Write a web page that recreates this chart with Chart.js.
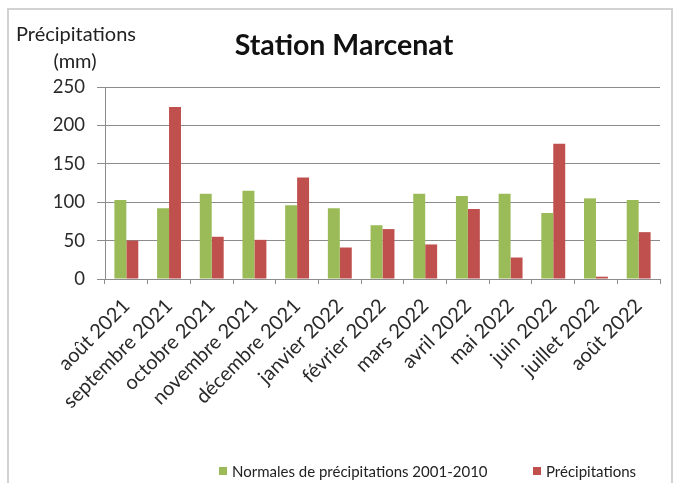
<!DOCTYPE html>
<html>
<head>
<meta charset="utf-8">
<script src="https://cdn.jsdelivr.net/npm/chart.js@4"></script>
<style>
  html, body { margin: 0; padding: 0; background: #fff; }
  #wrap { position: relative; width: 676px; height: 483px; overflow: hidden; font-family: Lato, "Open Sans", sans-serif; color: #222; }
  #frame { position: absolute; left: 7px; top: 8px; width: 666px; height: 500px; border: 2px solid #d2d2d2; box-sizing: border-box; }
  canvas { position: absolute; left: 0; top: 0; }
  .txt { position: absolute; white-space: nowrap; line-height: 1; }
  #title { left: 344px; top: 44px; transform: translate(-50%, -50%); font-weight: bold; font-size: 28.5px; color: #111; }
  #ytitle1 { left: 76px; top: 33px; transform: translate(-50%, -50%); font-size: 20px; }
  #ytitle2 { left: 75px; top: 60px; transform: translate(-50%, -50%); font-size: 20px; }
  #legend { position: absolute; top: 462px; left: 0; width: 676px; transform: translateY(-50%); font-size: 15px; }
  .item { position: absolute; top: 0; display: flex; align-items: center; white-space: nowrap; }
  .box { width: 8px; height: 8px; margin-right: 5px; }
</style>
</head>
<body>
<div id="wrap">
  <div id="frame"></div>
  <canvas id="c" width="676" height="483"></canvas>
  <div class="txt" id="title">Station Marcenat</div>
  <div class="txt" id="ytitle1">Précipitations</div>
  <div class="txt" id="ytitle2">(mm)</div>
  <div id="legend"></div>
</div>
<script>
const categories = ["août 2021", "septembre 2021", "octobre 2021", "novembre 2021", "décembre 2021", "janvier 2022", "février 2022", "mars 2022", "avril 2022", "mai 2022", "juin 2022", "juillet 2022", "août 2022"];
const normales = [103, 92, 111, 115, 96, 92, 70, 111, 108, 111, 86, 105, 103];
const precipitations = [50, 224, 55, 51, 132, 41, 65, 45, 91, 28, 176, 3, 61];
const seriesNames = ["Normales de précipitations 2001-2010", "Précipitations"];
const seriesColors = ["#9BBB59", "#C0504D"];
const yTicks = [0, 50, 100, 150, 200, 250];

const font = "Lato, 'Open Sans', sans-serif";
const gridColor = "#8c8c8c";

new Chart(document.getElementById("c"), {
  type: "bar",
  data: {
    labels: categories,
    datasets: [
      { label: seriesNames[0], data: normales, backgroundColor: seriesColors[0], borderWidth: 0 },
      { label: seriesNames[1], data: precipitations, backgroundColor: seriesColors[1], borderWidth: 0 }
    ]
  },
  options: {
    responsive: false,
    devicePixelRatio: 1,
    animation: false,
    layout: { padding: { top: 87, right: 16, left: 0, bottom: 0 } },
    datasets: { bar: { categoryPercentage: 0.56, barPercentage: 1.0 } },
    plugins: { legend: { display: false }, title: { display: false }, tooltip: { enabled: false } },
    scales: {
      x: {
        afterFit: s => { s.height = 204; },
        grid: { display: true, drawOnChartArea: false, drawTicks: true, tickLength: 5, color: gridColor, offset: true },
        border: { display: true, color: gridColor, width: 1 },
        ticks: { autoSkip: false, minRotation: 45, maxRotation: 45, color: "#2a2a2a", padding: 10, font: { family: font, size: 20 } }
      },
      y: {
        min: 0, max: 250,
        afterFit: s => { s.width = 105; },
        afterBuildTicks: s => { s.ticks = yTicks.map(v => ({ value: v })); },
        grid: { color: gridColor, lineWidth: 1, drawTicks: true, tickLength: 8 },
        border: { display: true, color: gridColor, width: 1 },
        ticks: { color: "#2a2a2a", padding: 12, font: { family: font, size: 18.5 } }
      }
    }
  }
});

// HTML legend built from the series names/colours
const legend = document.getElementById("legend");
const legendX = [219, 533];
seriesNames.forEach((name, i) => {
  const it = document.createElement("div");
  it.className = "item";
  it.style.left = legendX[i] + "px";
  const b = document.createElement("span");
  b.className = "box";
  b.style.background = seriesColors[i];
  const t = document.createElement("span");
  t.textContent = name;
  it.appendChild(b); it.appendChild(t);
  legend.appendChild(it);
});
</script>
</body>
</html>
